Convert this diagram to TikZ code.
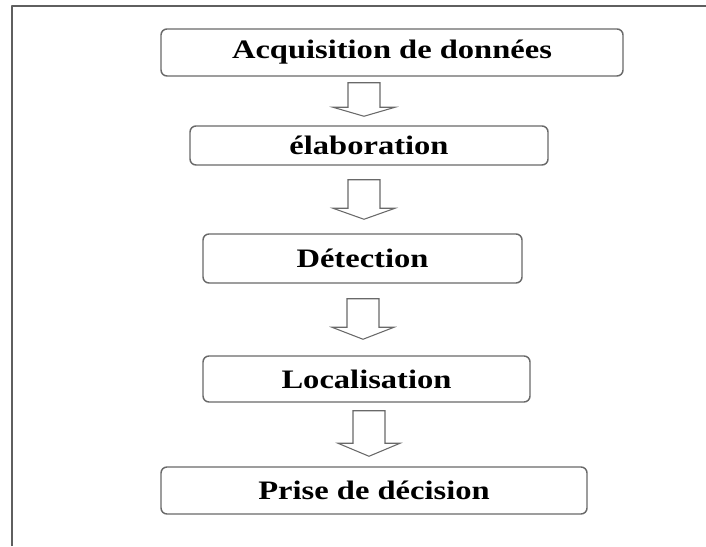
\documentclass[tikz,border=0pt]{standalone}
\usepackage{fontspec}
\setmainfont{Liberation Serif}[FakeStretch=1.22]
\usetikzlibrary{calc}
\definecolor{cadregris}{RGB}{95,95,95}
\definecolor{boitegris}{RGB}{105,105,105}
\tikzset{
	etape/.style={draw=boitegris,line width=1.1pt,rounded corners=4.5pt,inner sep=0pt,font=\fontsize{20}{24}\selectfont\bfseries},
	fleche/.style={draw=boitegris,line width=0.8pt,line join=miter}
}
% fleche creuse : #1 haut, #2 pointe, #3 longueur de la tete
\newcommand{\hollowarrow}[3]{%
	\draw[fleche] ($(#1)+(-16,0)$) -- ($(#2)+(-16,#3)$) -- ($(#2)+(-31,#3)$) -- (#2) -- ($(#2)+(31,#3)$) -- ($(#2)+(16,#3)$) -- ($(#1)+(16,0)$) -- cycle;}

\begin{document}
\begin{tikzpicture}[line cap=round,line join=round,x=0.75pt,y=0.75pt]
	\useasboundingbox (0,0) rectangle (706,546);
	% cadre
	\draw [line width=1.1pt,color=cadregris,line cap=butt] (12,0) -- (12,540) -- (706,540);
	% etapes
	\node[etape,minimum width=346.5pt,minimum height=35.25pt] (acq) at (392,493.5) {Acquisition de données};
	\node[etape,minimum width=268.5pt,minimum height=29.25pt] (elab) at (369,400.5) {élaboration};
	\node[etape,minimum width=239.25pt,minimum height=36.75pt] (detec) at (362.5,287.5) {Détection};
	\node[etape,minimum width=245.25pt,minimum height=34.5pt] (local) at (366.5,167) {Localisation};
	\node[etape,minimum width=319.5pt,minimum height=35.25pt] (decis) at (374,55.5) {Prise de décision};
	% fleches
	\coordinate (f1h) at ($(acq.south)+(-28,-6)$);
	\coordinate (f1p) at ($(elab.north)+(-5,9)$);
	\coordinate (f2h) at ($(elab.south)+(-5,-14)$);
	\coordinate (f2p) at ($(detec.north)+(1.5,14)$);
	\coordinate (f3h) at ($(detec.south)+(0.5,-15)$);
	\coordinate (f3p) at ($(local.north)+(-3.5,16)$);
	\coordinate (f4h) at ($(local.south)+(2.5,-8)$);
	\coordinate (f4p) at ($(decis.north)+(-5,10)$);
	\hollowarrow{f1h}{f1p}{9}
	\hollowarrow{f2h}{f2p}{11}
	\hollowarrow{f3h}{f3p}{12}
	\hollowarrow{f4h}{f4p}{13}
\end{tikzpicture}
\end{document}
